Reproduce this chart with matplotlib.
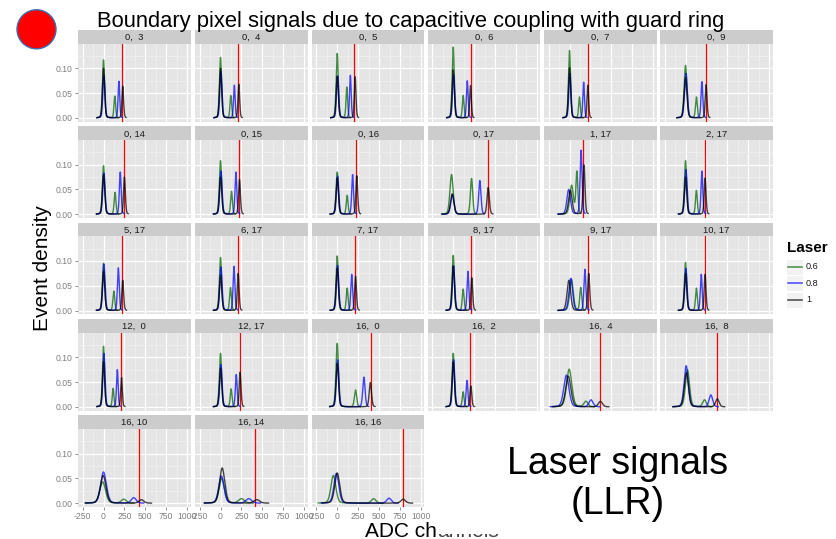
import numpy as np
import matplotlib
matplotlib.use("Agg")
import matplotlib.pyplot as plt
from matplotlib.patches import Ellipse, Rectangle
from matplotlib.lines import Line2D
from matplotlib.ticker import FixedLocator, FormatStrFormatter

plt.rcParams['font.family'] = ['Liberation Sans', 'DejaVu Sans']

# ---------------------------------------------------------------- data
# pixel (row, column) of each facet
pix_row = [0, 0, 0, 0, 0, 0,
           0, 0, 0, 0, 1, 2,
           5, 6, 7, 8, 9, 10,
           12, 12, 16, 16, 16, 16,
           16, 16, 16]
pix_col = [3, 4, 5, 6, 7, 9,
           14, 15, 16, 17, 17, 17,
           17, 17, 17, 17, 17, 17,
           0, 17, 0, 2, 4, 8,
           10, 14, 16]

# reference ADC value marked in red
red_adc = [222, 211, 203, 211, 219, 250,
           242, 223, 226, 418, 165, 227,
           222, 204, 211, 214, 226, 234,
           211, 234, 399, 203, 360, 380,
           430, 415, 791]

laser_levels = ["0.6", "0.8", "1"]

# pedestal peak: position and height per laser level (0.6, 0.8, 1)
ped_pos = [
    (0, 5, 0), (0, 5, 0), (0, 5, 0), (0, 5, 0), (0, 5, 0), (0, 5, 0),
    (0, 5, 0), (0, 5, 0), (0, 5, 0), (-20, -10, -12), (25, -10, 10), (0, 5, 0),
    (0, 5, 0), (0, 5, 0), (0, 5, 0), (0, 5, 0), (23, 15, -8), (0, 5, 0),
    (0, 5, 0), (0, 5, 0), (0, 5, 0), (0, 5, 0), (-4, -38, -15), (23, 8, 10),
    (-10, 0, -5), (15, 10, 20), (-46, -10, 0),
]
ped_height = [
    (0.117, 0.085, 0.100), (0.122, 0.094, 0.100), (0.130, 0.085, 0.084),
    (0.143, 0.087, 0.097), (0.136, 0.090, 0.101), (0.106, 0.090, 0.081),
    (0.098, 0.083, 0.080), (0.108, 0.087, 0.075), (0.085, 0.077, 0.073),
    (0.080, 0.040, 0.041), (0.058, 0.050, 0.048), (0.108, 0.090, 0.075),
    (0.095, 0.094, 0.079), (0.107, 0.088, 0.071), (0.110, 0.091, 0.086),
    (0.111, 0.090, 0.090), (0.063, 0.065, 0.061), (0.097, 0.085, 0.075),
    (0.122, 0.108, 0.091), (0.108, 0.085, 0.078), (0.128, 0.095, 0.088),
    (0.108, 0.095, 0.091), (0.076, 0.064, 0.062), (0.075, 0.083, 0.069),
    (0.043, 0.063, 0.056), (0.050, 0.055, 0.071), (0.056, 0.060, 0.061),
]

# laser signal peak: position and height per laser level (0.6, 0.8, 1)
sig_pos = [
    (135, 184, 230), (123, 165, 219), (115, 157, 214),
    (119, 168, 207), (119, 169, 219), (130, 196, 246),
    (138, 200, 250), (131, 184, 227), (119, 184, 234),
    (219, 318, 418), (88, 138, 173), (130, 196, 234),
    (123, 177, 230), (119, 161, 211), (119, 173, 219),
    (119, 176, 222), (134, 184, 230), (130, 188, 234),
    (115, 165, 215), (127, 188, 234), (219, 319, 396),
    (119, 165, 211), (196, 257, 369), (227, 303, 380),
    (242, 361, 453), (250, 338, 434), (435, 619, 788),
]
sig_height = [
    (0.044, 0.074, 0.064), (0.045, 0.066, 0.068), (0.062, 0.086, 0.083),
    (0.045, 0.075, 0.065), (0.042, 0.072, 0.066), (0.042, 0.073, 0.067),
    (0.044, 0.085, 0.075), (0.046, 0.085, 0.070), (0.038, 0.080, 0.078),
    (0.072, 0.068, 0.054), (0.085, 0.129, 0.099), (0.048, 0.087, 0.073),
    (0.039, 0.086, 0.061), (0.046, 0.089, 0.075), (0.045, 0.073, 0.069),
    (0.043, 0.079, 0.066), (0.046, 0.083, 0.075), (0.045, 0.073, 0.073),
    (0.037, 0.075, 0.059), (0.036, 0.065, 0.070), (0.034, 0.060, 0.049),
    (0.030, 0.053, 0.042), (0.011, 0.014, 0.011), (0.014, 0.024, 0.016),
    (0.008, 0.011, 0.007), (0.009, 0.009, 0.007), (0.009, 0.010, 0.008),
]

# peak widths (ADC) of pedestal and signal
ped_width = [13, 13, 13, 13, 13, 17,
             14, 14, 14, 20, 22, 14,
             14, 14, 14, 14, 22, 14,
             13, 14, 15, 14, 32, 25,
             35, 32, 30]
sig_width = [10, 10, 10, 10, 10, 11,
             11, 11, 11, 14, 12, 11,
             11, 11, 11, 11, 12, 11,
             10, 11, 14, 11, 25, 22,
             30, 35, 28]

# ---------------------------------------------------------------- style
line_colors = ["#006400", "#0000FF", "#000000"]
line_alpha = 0.72

W, H = 836, 539
fig = plt.figure(figsize=(W / 100, H / 100), dpi=100)


def fx(px):
    return px / W


def fy(py):
    return 1 - py / H


col_left = [78, 195, 311.7, 427.7, 544, 660]
panel_w = 112.7
strip_top = [30, 126.3, 222.6, 318.9, 415.2]
strip_h = 13.7
plot_h = 78.0
XLIM = (-305, 1042)
YLIM = (-0.0075, 0.1498)
tick_grey = "#7F7F7F"


def peak(x, c, h, w):
    d = (x - c) / w
    return h * (0.75 * np.exp(-0.5 * d ** 2) + 0.25 / (1 + d ** 2))


n_cols = 6
for i in range(len(pix_row)):
    r, c = divmod(i, n_cols)
    left = col_left[c]
    top = strip_top[r]
    # strip
    sax = fig.add_axes([fx(left), fy(top + strip_h), fx(panel_w), strip_h / H])
    sax.set_facecolor("#CCCCCC")
    sax.set_xticks([])
    sax.set_yticks([])
    for s in sax.spines.values():
        s.set_visible(False)
    sax.text(0.5, 0.45, f"{pix_row[i]}, {pix_col[i]:>2}", ha="center",
             va="center", fontsize=6.8, color="#1A1A1A",
             transform=sax.transAxes)
    # panel
    ax = fig.add_axes([fx(left), fy(top + strip_h + plot_h), fx(panel_w),
                       plot_h / H])
    ax.set_facecolor("#E5E5E5")
    for s in ax.spines.values():
        s.set_visible(False)
    ax.set_xlim(*XLIM)
    ax.set_ylim(*YLIM)
    ax.xaxis.set_major_locator(FixedLocator([-250, 0, 250, 500, 750, 1000]))
    ax.xaxis.set_minor_locator(FixedLocator([-125, 125, 375, 625, 875]))
    ax.yaxis.set_major_locator(FixedLocator([0.0, 0.05, 0.10]))
    ax.yaxis.set_minor_locator(FixedLocator([0.025, 0.075, 0.125]))
    ax.grid(which="major", color="white", lw=0.85)
    ax.grid(which="minor", color="#F2F2F2", lw=0.45)
    ax.set_axisbelow(True)
    ax.tick_params(which="minor", length=0)
    ax.yaxis.set_major_formatter(FormatStrFormatter("%.2f"))
    ax.xaxis.set_major_formatter(FormatStrFormatter("%d"))
    show_y = c == 0
    show_x = r == 4
    ax.tick_params(axis="y", which="major", left=show_y, labelleft=show_y,
                   length=2.5, width=0.6, color=tick_grey, pad=1.5,
                   labelsize=6.2, labelcolor=tick_grey)
    ax.tick_params(axis="x", which="major", bottom=show_x, labelbottom=show_x,
                   length=2.5, width=0.6, color=tick_grey, pad=1.2,
                   labelsize=6.2, labelcolor=tick_grey)

    ax.axvline(red_adc[i], color="#FF0000", lw=0.9, zorder=2)
    for k in range(3):
        pc, ph = ped_pos[i][k], ped_height[i][k]
        sc, sh = sig_pos[i][k], sig_height[i][k]
        pw, sw = ped_width[i], sig_width[i]
        x = np.linspace(min(pc, 0) - 6 * pw, sc + 4 * sw, 500)
        y = peak(x, pc, ph, pw) + peak(x, sc, sh, sw)
        ax.plot(x, y, color=line_colors[k], alpha=line_alpha, lw=1.0,
                zorder=3 + k)

# ---------------------------------------------------------------- legend
fig.text(fx(787), fy(248), "Laser", fontsize=11, fontweight="bold",
         ha="left", va="center")
key_y = [266.7, 283.3, 299.6]
for k, lab in enumerate(laser_levels):
    yc = key_y[k]
    fig.add_artist(Rectangle((fx(786), fy(yc + 8)), 17 / W, 16 / H,
                             transform=fig.transFigure,
                             facecolor="#F2F2F2", edgecolor="white",
                             lw=0.8))
    fig.add_artist(Line2D([fx(788), fx(802)], [fy(yc), fy(yc)],
                          transform=fig.transFigure, color=line_colors[k],
                          alpha=line_alpha, lw=1.1))
    fig.text(fx(806), fy(yc), lab, fontsize=6.6, ha="left", va="center",
             color="#1A1A1A")

# ---------------------------------------------------------------- titles
fig.text(fx(97), fy(27), "Boundary pixel signals due to capacitive coupling "
         "with guard ring", fontsize=15.8, ha="left", va="baseline")
fig.text(fx(42), fy(268), "Event density", fontsize=15, rotation=90,
         ha="center", va="center")

# axis title: the tail of the word sits behind the text box on the right,
# so only its lowest pixels show
head = fig.text(fx(365), fy(537), "ADC ch", fontsize=15, ha="left",
                va="baseline")
renderer = fig.canvas.get_renderer()
hb = head.get_window_extent(renderer)
tail_ax = fig.add_axes([hb.x1 / W, 0, 0.2, (H - 533.5) / H])
tail_ax.set_axis_off()
tail_ax.text(hb.x1 / W, fy(537), "annels", fontsize=15, ha="left",
             va="baseline", color="#444444", transform=fig.transFigure,
             clip_on=True)

fig.text(fx(617.5), fy(474), "Laser signals", fontsize=27, ha="center",
         va="baseline", zorder=5)
fig.text(fx(617.5), fy(514), "(LLR)", fontsize=27, ha="center",
         va="baseline", zorder=5)

# red marker dot in the top-left corner
fig.add_artist(Ellipse((fx(36.5), fy(29.3)), 39 / W, 39 / H,
                       transform=fig.transFigure, facecolor="#FF0000",
                       edgecolor="#3A6FB0", lw=1.0))

fig.savefig("out.png", dpi=100)
